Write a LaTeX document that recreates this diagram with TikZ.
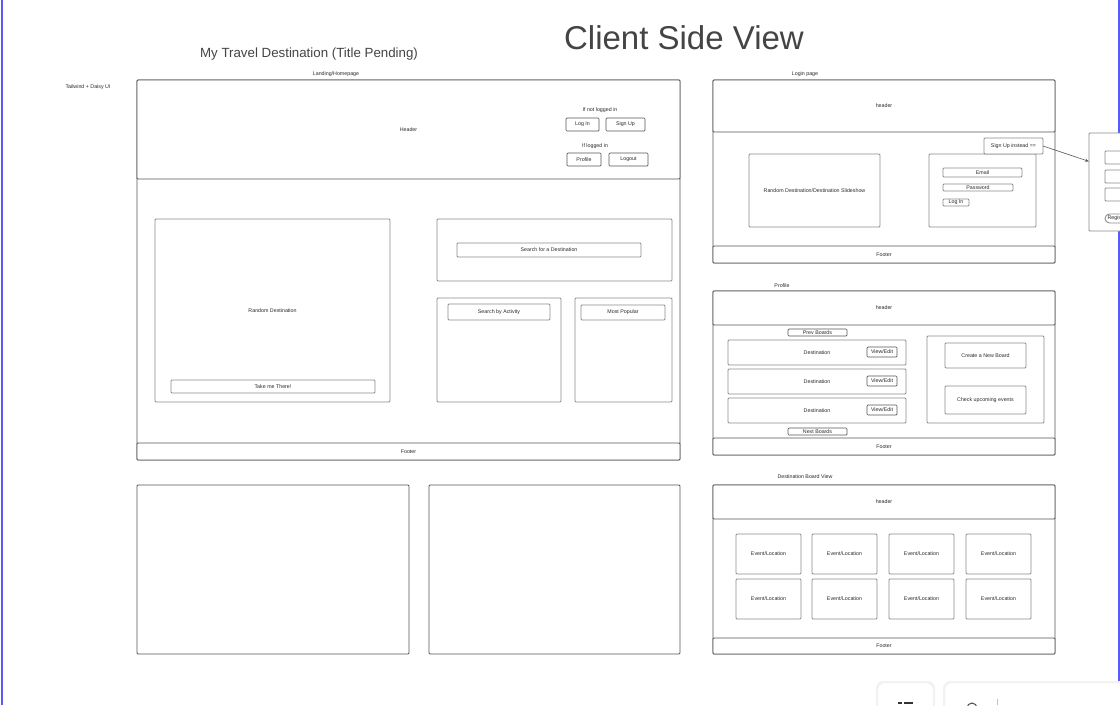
\documentclass[tikz,border=0pt]{standalone}
\usepackage{fontspec}
\setmainfont{Liberation Sans}
\usetikzlibrary{calc,arrows.meta}

\definecolor{frameline}{HTML}{555555}
\definecolor{boxline}{HTML}{8C8C8C}
\definecolor{pageblue}{HTML}{5A5AF8}
\definecolor{inktext}{HTML}{2A2A2A}
\definecolor{titlegrey}{HTML}{444444}

% rectangle node given by its corners: [style]{name}{x1}{y1}{x2}{y2}{text}
\newcommand\wbox[7][]{%
  \node[wire,#1,minimum width={(#5-#3)*1pt},minimum height={(#6-#4)*1pt}]
    (#2) at ({(#3+#5)/2},{(#4+#6)/2}) {#7};}

\tikzset{
  tinyfont/.style={font=\fontsize{5.3}{6}\selectfont},
  wire/.style={draw=boxline, line width=0.9pt, rounded corners=1pt, fill=white,
    inner sep=0pt, outer sep=0pt, text=inktext, tinyfont},
  frame/.style={draw=frameline, line width=0.8pt},
  darkbtn/.style={draw=frameline, line width=0.7pt},
  caption/.style={inner sep=0pt, text=inktext, tinyfont},
  uipanel/.style={fill=white, draw=black!7, rounded corners=6pt},
}

\begin{document}
\begin{tikzpicture}[x=1pt,y=-1pt]
\clip (0,0) rectangle (1120,705);
\fill[white] (0,0) rectangle (1120,705);

% page edges
\draw[pageblue, line width=1.8pt] (1.6,0) -- (1.6,705);
\draw[pageblue, line width=1.8pt] (1119.2,0) -- (1119.2,705);

% titles
\node[text=titlegrey, font=\fontsize{33}{36}\selectfont, inner sep=0pt] (maintitle) at (684,38) {Client Side View};
\node[text=titlegrey, font=\fontsize{13.3}{15}\selectfont, inner sep=0pt] (apptitle) at (309,54) {My Travel Destination (Title Pending)};
\node[caption] (stack) at (88,87) {Tailwind + Daisy UI};

% ---------- Landing / Homepage ----------
\node[caption] (landcap) at (336,74) {Landing/Homepage};
\wbox[frame]{land}{137}{80}{680}{460}{}
\wbox[frame]{landhead}{137}{80}{680}{179}{Header}
\wbox[frame]{landfoot}{137}{443}{680}{460}{Footer}

\node[caption] (notin) at (600,110) {If not logged in};
\wbox[darkbtn]{loginbtn}{566}{118}{599}{131}{Log In}
\wbox[darkbtn]{signupbtn}{606}{118}{645}{131}{Sign Up}
\node[caption] (isin) at (595,146) {If logged in};
\wbox[darkbtn]{profilebtn}{567}{153}{601}{166}{Profile}
\wbox[darkbtn]{logoutbtn}{609}{153}{648}{166}{Logout}

\wbox{randdest}{155}{219}{390}{402}{Random Destination}
\wbox{takeme}{171}{380}{375}{393}{Take me There!}

\wbox{searchpanel}{437}{219}{672}{281}{}
\wbox{searchdest}{457}{243}{641}{257}{Search for a Destination}

\wbox{actpanel}{437}{298}{561}{402}{}
\wbox{searchact}{448}{304}{550}{320}{Search by Activity}

\wbox{poppanel}{575}{298}{672}{402}{}
\wbox{mostpop}{581}{305}{665}{320}{Most Popular}

% blank pages
\wbox[frame]{blankA}{137}{485}{409}{654}{}
\wbox[frame]{blankB}{429}{485}{680}{654}{}

% ---------- Login page ----------
\node[caption] (logincap) at (805,74) {Login page};
\wbox[frame]{login}{713}{80}{1055}{263}{}
\wbox[frame]{loginhead}{713}{80}{1055}{132}{header}
\wbox[frame]{loginfoot}{713}{246}{1055}{263}{Footer}

\wbox{slides}{749}{154}{880}{227}{Random Destination/Destination Slideshow}
\wbox{loginform}{929}{154}{1036}{227}{}
\wbox{email}{943}{168}{1022}{177}{Email}
\wbox{password}{943}{184}{1013}{191}{Password}
\wbox{loginsubmit}{943}{199}{969}{206}{Log In}
\wbox{signinstead}{984}{138}{1043}{154}{Sign Up instead ==}

% register panel
\wbox{register}{1089}{133}{1160}{231}{}
\wbox{regA}{1105}{151}{1160}{164}{}
\wbox{regB}{1105}{170}{1160}{183}{}
\wbox{regC}{1105}{188}{1160}{201}{}
\node[wire, rounded corners=4.5pt, minimum height=9pt, text width=50pt, align=left,
      inner xsep=2.5pt, anchor=west] (regbtn) at (1105,218.5) {Register};

\draw[frameline, line width=0.6pt, -{Stealth[length=4pt,width=3pt]}]
  (signinstead.east) -- ($(register.north west)!0.29!(register.south west)$);

% ---------- Profile ----------
\node[caption] (profcap) at (782,286) {Profile};
\wbox[frame]{profile}{713}{291}{1055}{455}{}
\wbox[frame]{profhead}{713}{291}{1055}{325}{header}
\wbox[frame]{proffoot}{713}{438}{1055}{455}{Footer}

\wbox[darkbtn]{prevboards}{788}{329}{847}{336}{Prev Boards}
\wbox{destA}{728}{340}{906}{365}{Destination}
\wbox{destB}{728}{369}{906}{394}{Destination}
\wbox{destC}{728}{398}{906}{423}{Destination}
\wbox[darkbtn]{editA}{867}{347}{897}{357}{View/Edit}
\wbox[darkbtn]{editB}{867}{376}{897}{386}{View/Edit}
\wbox[darkbtn]{editC}{867}{405}{897}{415}{View/Edit}
\wbox[darkbtn]{nextboards}{788}{428}{847}{435}{Next Boards}

\wbox{actions}{927}{336}{1044}{423}{}
\wbox{newboard}{945}{343}{1026}{368}{Create a New Board}
\wbox{upcoming}{945}{386}{1026}{414}{Check upcoming events}

% ---------- Destination Board View ----------
\node[caption] (boardcap) at (805,477) {Destination Board View};
\wbox[frame]{board}{713}{485}{1055}{654}{}
\wbox[frame]{boardhead}{713}{485}{1055}{519}{header}
\wbox[frame]{boardfoot}{713}{638}{1055}{654}{Footer}

\foreach \col/\xa/\xb in {1/736/801, 2/812/877, 3/889/954, 4/966/1031}{
  \wbox{evA\col}{\xa}{534}{\xb}{574}{Event/Location}
  \wbox{evB\col}{\xa}{579}{\xb}{619}{Event/Location}
}

% ---------- viewer controls ----------
\fill[black!5, rounded corners=7pt] (876,681) rectangle (935,715);
\fill[black!5, rounded corners=7pt] (943,681) rectangle (1135,715);
\draw[uipanel] (878,683) rectangle (933,713);
\draw[uipanel] (945,683) rectangle (1133,713);
\draw[black!80, line width=1.2pt] (898,703) -- (902,703);
\draw[black!80, line width=1.2pt] (904,703) -- (913,703);
\draw[black!70, line width=1pt] (972,708) circle (5);
\draw[black!25, line width=0.8pt] (997,699) -- (997,705);
\end{tikzpicture}
\end{document}
